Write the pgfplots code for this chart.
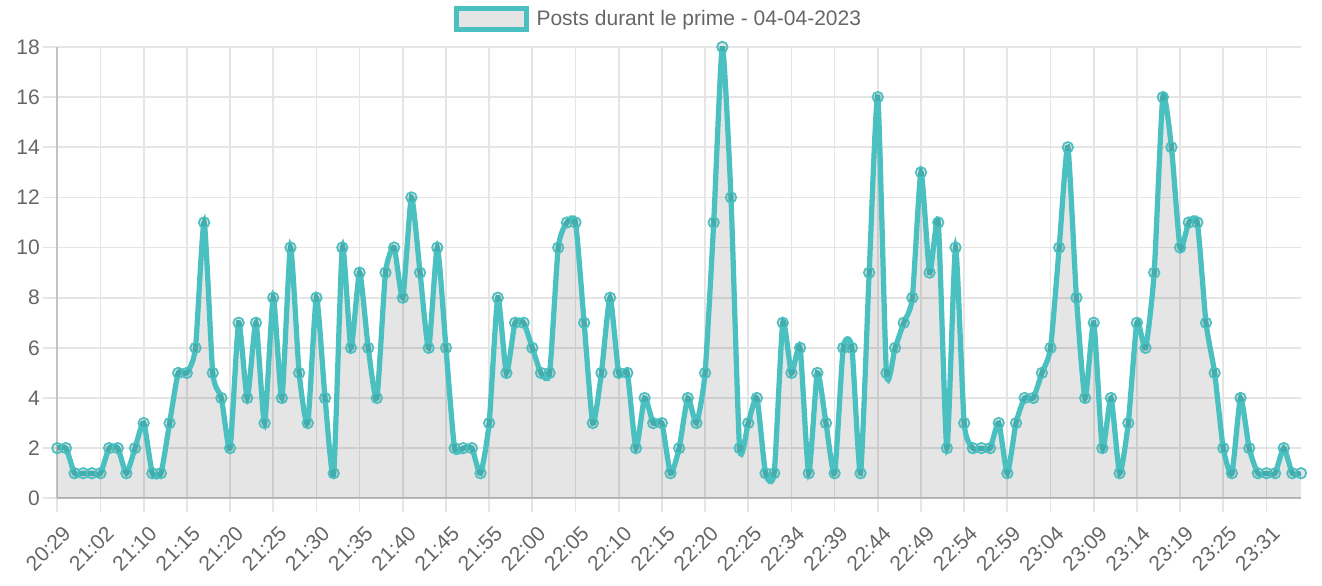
\documentclass[border=0pt]{standalone}
\usepackage{fontspec}
\setmainfont{Liberation Sans}
\usepackage{pgfplots}
\usepackage{pgfplotstable}
\pgfplotsset{compat=1.18}

\definecolor{serie}{RGB}{75,192,192}
\definecolor{texte}{RGB}{102,102,102}
\definecolor{grille}{RGB}{229,229,229}
\definecolor{axe}{RGB}{195,195,195}

% posts per slot, index = position on the x axis
\pgfplotstableread{
i n
0 2
1 2
2 1
3 1
4 1
5 1
6 2
7 2
8 1
9 2
10 3
11 1
12 1
13 3
14 5
15 5
16 6
17 11
18 5
19 4
20 2
21 7
22 4
23 7
24 3
25 8
26 4
27 10
28 5
29 3
30 8
31 4
32 1
33 10
34 6
35 9
36 6
37 4
38 9
39 10
40 8
41 12
42 9
43 6
44 10
45 6
46 2
47 2
48 2
49 1
50 3
51 8
52 5
53 7
54 7
55 6
56 5
57 5
58 10
59 11
60 11
61 7
62 3
63 5
64 8
65 5
66 5
67 2
68 4
69 3
70 3
71 1
72 2
73 4
74 3
75 5
76 11
77 18
78 12
79 2
80 3
81 4
82 1
83 1
84 7
85 5
86 6
87 1
88 5
89 3
90 1
91 6
92 6
93 1
94 9
95 16
96 5
97 6
98 7
99 8
100 13
101 9
102 11
103 2
104 10
105 3
106 2
107 2
108 2
109 3
110 1
111 3
112 4
113 4
114 5
115 6
116 10
117 14
118 8
119 4
120 7
121 2
122 4
123 1
124 3
125 7
126 6
127 9
128 16
129 14
130 10
131 11
132 11
133 7
134 5
135 2
136 1
137 4
138 2
139 1
140 1
141 1
142 2
143 1
144 1
}\posts

\begin{document}
\begin{tikzpicture}[x=1pt,y=1pt]
\path[use as bounding box] (0,0) rectangle (1322,586);
\begin{axis}[
  at={(57.3pt,87.7pt)}, anchor=south west,
  scale only axis, width=1243.7pt, height=451.3pt,
  xmin=0, xmax=144, ymin=0, ymax=18,
  axis x line*=bottom, axis y line*=left,
  x axis line style={-}, y axis line style={-},
  axis line style={draw=axe, line width=1.75pt},
  xtick={0,5,...,140},
  xticklabels={20:29,21:02,21:10,21:15,21:20,21:25,21:30,21:35,21:40,21:45,
    21:55,22:00,22:05,22:10,22:15,22:20,22:25,22:34,22:39,22:44,22:49,22:54,
    22:59,23:04,23:09,23:14,23:19,23:25,23:31},
  ytick={0,2,...,18},
  grid=major, major grid style={draw=grille, line width=1.75pt},
  tick align=outside, major tick length=14pt,
  every tick/.style={draw=grille, line width=1.75pt},
  tick label style={font=\fontsize{21}{21}\selectfont, text=texte},
  xticklabel style={xshift=11pt, yshift=-16pt, rotate=45, anchor=east, inner sep=2pt},
  /pgf/number format/assume math mode=true,
  legend style={at={(0.4834,1.062)}, anchor=center, draw=none, fill=none,
    font=\fontsize{21}{21}\selectfont, text=texte, inner sep=0pt},
]
\addplot[draw=none, fill=black, fill opacity=0.1, smooth, tension=0.35, forget plot]
  table[x=i, y=n] {\posts} \closedcycle;
\addplot[serie, line width=5.25pt, smooth, tension=0.35, mark=*, mark size=5.25pt,
  mark options={draw=serie, line width=1.75pt, fill=black, fill opacity=0.1},
  legend image code/.code={\draw[draw=serie, line width=5.25pt, fill=black,
    fill opacity=0.1] (0pt,-10.5pt) rectangle (70pt,10.5pt);
    \path[draw=none, fill=none] (78pt,0pt) circle (0pt);}]
  table[x=i, y=n] {\posts};
\addlegendentry{Posts durant le prime - 04-04-2023}
\end{axis}
\end{tikzpicture}
\end{document}
